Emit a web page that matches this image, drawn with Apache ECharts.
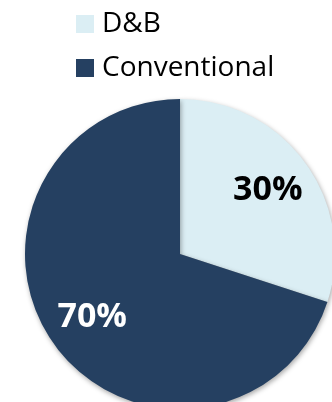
<!DOCTYPE html>
<html>
<head>
<meta charset="utf-8">
<script src="https://cdn.jsdelivr.net/npm/echarts@6/dist/echarts.min.js"></script>
<style>
  html, body { margin: 0; padding: 0; background: #fff; }
  #chart { width: 332px; height: 402px; }
</style>
</head>
<body>
<div id="chart"></div>
<script>
// data
const categories = ["D&B", "Conventional"];
const shares = [30, 70];
const sliceColors = ["#DBEEF4", "#254061"];
const labelColors = ["#000000", "#ffffff"];

const pieData = categories.map((name, i) => ({
  name: name,
  value: shares[i],
  itemStyle: { color: sliceColors[i] },
  label: { color: labelColors[i] },
}));

const chart = echarts.init(document.getElementById("chart"));
chart.setOption({
  animation: false,
  color: sliceColors,
  legend: {
    orient: "vertical",
    left: 76,
    top: 9,
    padding: 0,
    itemGap: 14,
    itemWidth: 18,
    itemHeight: 18,
    icon: "rect",
    textStyle: {
      fontFamily: "Open Sans",
      fontSize: 28,
      lineHeight: 30,
      color: "#000",
      padding: [0, 0, 0, 3],
    },
    data: categories,
  },
  series: [
    {
      // the slices
      type: "pie",
      center: [180, 254],
      radius: [0, 155],
      startAngle: 90,
      clockwise: true,
      label: { show: false },
      labelLine: { show: false },
      emphasis: { disabled: true },
      itemStyle: {
        shadowBlur: 5,
        shadowOffsetX: 1,
        shadowOffsetY: 2,
        shadowColor: "rgba(0,0,0,0.35)",
      },
      data: pieData,
    },
    {
      // transparent ring only used to place the percent labels further out
      type: "pie",
      center: [180, 254],
      radius: [56, 155],
      startAngle: 90,
      clockwise: true,
      silent: true,
      legendHoverLink: false,
      itemStyle: { color: "transparent" },
      label: {
        show: true,
        position: "inside",
        formatter: "{d}%",
        fontFamily: "Open Sans",
        fontWeight: "bold",
        fontSize: 34,
      },
      labelLine: { show: false },
      emphasis: { disabled: true },
      data: pieData.map((d) => ({
        name: d.name,
        value: d.value,
        itemStyle: { color: "transparent" },
        label: d.label,
      })),
    },
  ],
});
</script>
</body>
</html>
